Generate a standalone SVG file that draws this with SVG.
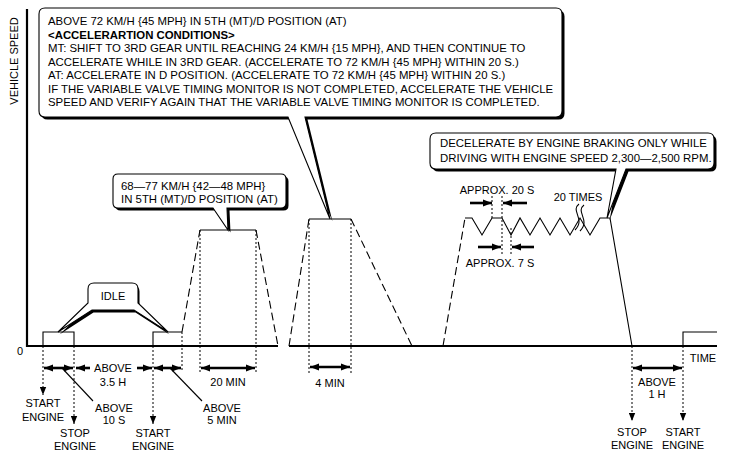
<svg xmlns="http://www.w3.org/2000/svg" width="729" height="460" viewBox="0 0 729 460">
<defs>
<style>
text{font-family:"Liberation Sans",Arial,sans-serif;font-size:11px;fill:#000}
.c{text-anchor:middle}
.big{font-size:11.4px}
.b{font-weight:bold}
.ln{stroke:#000;stroke-width:1.1;fill:none}
.thick{stroke:#000;stroke-width:2.2;fill:none}
.dash{stroke:#000;stroke-width:1.1;fill:none;stroke-dasharray:8 4}
.dot{stroke:#000;stroke-width:1;fill:none;stroke-dasharray:2 2}
.arr{stroke:#000;stroke-width:2.6;fill:none}
.box{fill:#fff;stroke:#000;stroke-width:1.1}
.shadow{fill:#000}
</style>
<marker id="ah" viewBox="0 0 10 8" markerUnits="userSpaceOnUse" markerWidth="9" markerHeight="7.5" refX="10" refY="4" orient="auto-start-reverse">
<path d="M0,0 L10,4 L0,8 Z" fill="#000"/>
</marker>
<marker id="dh" viewBox="0 0 10 8" markerUnits="userSpaceOnUse" markerWidth="8" markerHeight="7" refX="10" refY="4" orient="auto">
<path d="M0,0 L10,4 L0,8 Z" fill="#000"/>
</marker>
</defs>
<rect width="729" height="460" fill="#fff"/>

<g id="axes">
<line class="thick" x1="27" y1="9" x2="27" y2="347"/>
<line class="thick" x1="26" y1="346" x2="278" y2="346"/>
<line class="thick" x1="289" y1="346" x2="717" y2="346"/>
<text x="20" y="355" class="c">0</text>
<text x="703" y="362" class="c">TIME</text>
<text class="c" transform="translate(18,61) rotate(-90)">VEHICLE SPEED</text>
</g>

<g id="connectors">
<path class="ln" d="M43,346 V332 H74 V346"/>
<path class="ln" d="M153,346 V332 H182"/>
<path class="dot" d="M182,332 V372"/>
<path class="dash" d="M182,332 L200,230"/>
<path class="ln" d="M200,230 H256"/>
<path class="dash" d="M256,230 L278,346"/>
<path class="dot" d="M200,230 V372 M256,230 V372"/>
<path class="dash" d="M289,346 L309,219"/>
<path class="ln" d="M309,219 H351"/>
<path class="dash" d="M351,219 L412,346"/>
<path class="dot" d="M309,219 V373 M351,219 V373"/>
<path class="dash" d="M443,346 L465,218"/>
<path class="ln" d="M465,218 H472 L482,235 L492,218 H502 L511,235 L520,218 L530,235 L540,218 L550,235 L560,218 L570,235 L580,218 L590,235 L600,218 H610 L632,346"/>
<path class="dot" d="M492,196 V218 M502,196 V255 M511,228 V255"/>
<path class="ln" d="M579,204 C570,211 586,219 575,230 M584,205 C575,212 591,220 580,231"/>
<line class="arr" x1="470" y1="203" x2="492" y2="203" marker-end="url(#ah)"/>
<line class="arr" x1="527" y1="203" x2="503" y2="203" marker-end="url(#ah)"/>
<line class="arr" x1="478" y1="247" x2="501" y2="247" marker-end="url(#ah)"/>
<line class="arr" x1="534" y1="247" x2="512" y2="247" marker-end="url(#ah)"/>
<path class="ln" d="M683,346 V332 H717"/>
<line class="arr" x1="44" y1="368" x2="73" y2="368" marker-start="url(#ah)" marker-end="url(#ah)"/>
<line class="arr" x1="90" y1="368" x2="76" y2="368" marker-end="url(#ah)"/>
<line class="arr" x1="137" y1="368" x2="152" y2="368" marker-end="url(#ah)"/>
<line class="arr" x1="154" y1="368" x2="181" y2="368" marker-start="url(#ah)" marker-end="url(#ah)"/>
<line class="arr" x1="201" y1="368" x2="255" y2="368" marker-start="url(#ah)" marker-end="url(#ah)"/>
<line class="arr" x1="310" y1="367" x2="350" y2="367" marker-start="url(#ah)" marker-end="url(#ah)"/>
<line class="arr" x1="633" y1="368" x2="682" y2="368" marker-start="url(#ah)" marker-end="url(#ah)"/>
<line class="ln" x1="62" y1="368" x2="93" y2="401"/>
<line class="ln" x1="170" y1="368" x2="202" y2="401"/>
<line class="dot" x1="43" y1="346" x2="43" y2="395" marker-end="url(#dh)"/>
<line class="dot" x1="74" y1="346" x2="74" y2="424" marker-end="url(#dh)"/>
<line class="dot" x1="153" y1="346" x2="153" y2="424" marker-end="url(#dh)"/>
<line class="dot" x1="632" y1="346" x2="632" y2="421" marker-end="url(#dh)"/>
<line class="dot" x1="683" y1="346" x2="683" y2="421" marker-end="url(#dh)"/>
</g>

<g id="labels">
<text x="113" y="372" class="c">ABOVE</text>
<text x="113" y="386" class="c">3.5 H</text>
<text x="228" y="386" class="c">20 MIN</text>
<text x="330" y="387" class="c">4 MIN</text>
<text x="657" y="386" class="c">ABOVE</text>
<text x="657" y="398" class="c">1 H</text>
<text x="114" y="412" class="c">ABOVE</text>
<text x="114" y="424" class="c">10 S</text>
<text x="222" y="412" class="c">ABOVE</text>
<text x="222" y="424" class="c">5 MIN</text>
<text x="43" y="407" class="c">START</text>
<text x="43" y="421" class="c">ENGINE</text>
<text x="75" y="437" class="c">STOP</text>
<text x="75" y="450" class="c">ENGINE</text>
<text x="153" y="437" class="c">START</text>
<text x="153" y="450" class="c">ENGINE</text>
<text x="632" y="436" class="c">STOP</text>
<text x="632" y="449" class="c">ENGINE</text>
<text x="683" y="436" class="c">START</text>
<text x="683" y="449" class="c">ENGINE</text>
<text x="497" y="194" class="c">APPROX. 20 S</text>
<text x="500" y="267" class="c">APPROX. 7 S</text>
<text x="578" y="201" class="c">20 TIMES</text>
</g>

<g id="callout-accel">
<path class="shadow" transform="translate(2.5,2.5)" d="M45,8 H556 Q562,8 562,14 V111 Q562,117 556,117 H305 L330,219 L288,117 H45 Q39,117 39,111 V14 Q39,8 45,8 Z"/>
<path class="box" d="M45,8 H556 Q562,8 562,14 V111 Q562,117 556,117 H305 L330,219 L288,117 H45 Q39,117 39,111 V14 Q39,8 45,8 Z"/>
<text class="big" x="48" y="25">ABOVE 72 KM/H {45 MPH} IN 5TH (MT)/D POSITION (AT)</text>
<text class="big b" x="48" y="38.5">&lt;ACCELERARTION CONDITIONS&gt;</text>
<text class="big" x="48" y="52">MT: SHIFT TO 3RD GEAR UNTIL REACHING 24 KM/H {15 MPH}, AND THEN CONTINUE TO</text>
<text class="big" x="48" y="65.5">ACCELERATE WHILE IN 3RD GEAR. (ACCELERATE TO 72 KM/H {45 MPH} WITHIN 20 S.)</text>
<text class="big" x="48" y="79">AT: ACCELERATE IN D POSITION. (ACCELERATE TO 72 KM/H {45 MPH} WITHIN 20 S.)</text>
<text class="big" x="48" y="92.5">IF THE VARIABLE VALVE TIMING MONITOR IS NOT COMPLETED, ACCELERATE THE VEHICLE</text>
<text class="big" x="48" y="106">SPEED AND VERIFY AGAIN THAT THE VARIABLE VALVE TIMING MONITOR IS COMPLETED.</text>
</g>

<g id="callout-speed">
<path class="shadow" transform="translate(2.5,2.5)" d="M118,174 H281 Q286,174 286,179 V203 Q286,208 281,208 H227 L228,230 L213,208 H118 Q113,208 113,203 V179 Q113,174 118,174 Z"/>
<path class="box" d="M118,174 H281 Q286,174 286,179 V203 Q286,208 281,208 H227 L228,230 L213,208 H118 Q113,208 113,203 V179 Q113,174 118,174 Z"/>
<text class="big" x="121" y="190">68—77 KM/H {42—48 MPH}</text>
<text class="big" x="121" y="203">IN 5TH (MT)/D POSITION (AT)</text>
</g>

<g id="callout-idle">
<path class="shadow" transform="translate(1.5,2.5)" d="M94,283 H132 Q138,283 138,289 V303 L168,332 L134,310 H92 L58,332 L88,303 V289 Q88,283 94,283 Z"/>
<path class="box" d="M94,283 H132 Q138,283 138,289 V303 L168,332 L134,310 H92 L58,332 L88,303 V289 Q88,283 94,283 Z"/>
<text x="113" y="300" class="c">IDLE</text>
</g>

<g id="callout-decel">
<path class="shadow" transform="translate(2.5,2.5)" d="M436,133 H708 Q714,133 714,139 V163 Q714,169 708,169 H626 L607,218 L616,169 H436 Q430,169 430,163 V139 Q430,133 436,133 Z"/>
<path class="box" d="M436,133 H708 Q714,133 714,139 V163 Q714,169 708,169 H626 L607,218 L616,169 H436 Q430,169 430,163 V139 Q430,133 436,133 Z"/>
<text class="big" x="440" y="147">DECELERATE BY ENGINE BRAKING ONLY WHILE</text>
<text class="big" x="440" y="162">DRIVING WITH ENGINE SPEED 2,300—2,500 RPM.</text>
</g>
</svg>
